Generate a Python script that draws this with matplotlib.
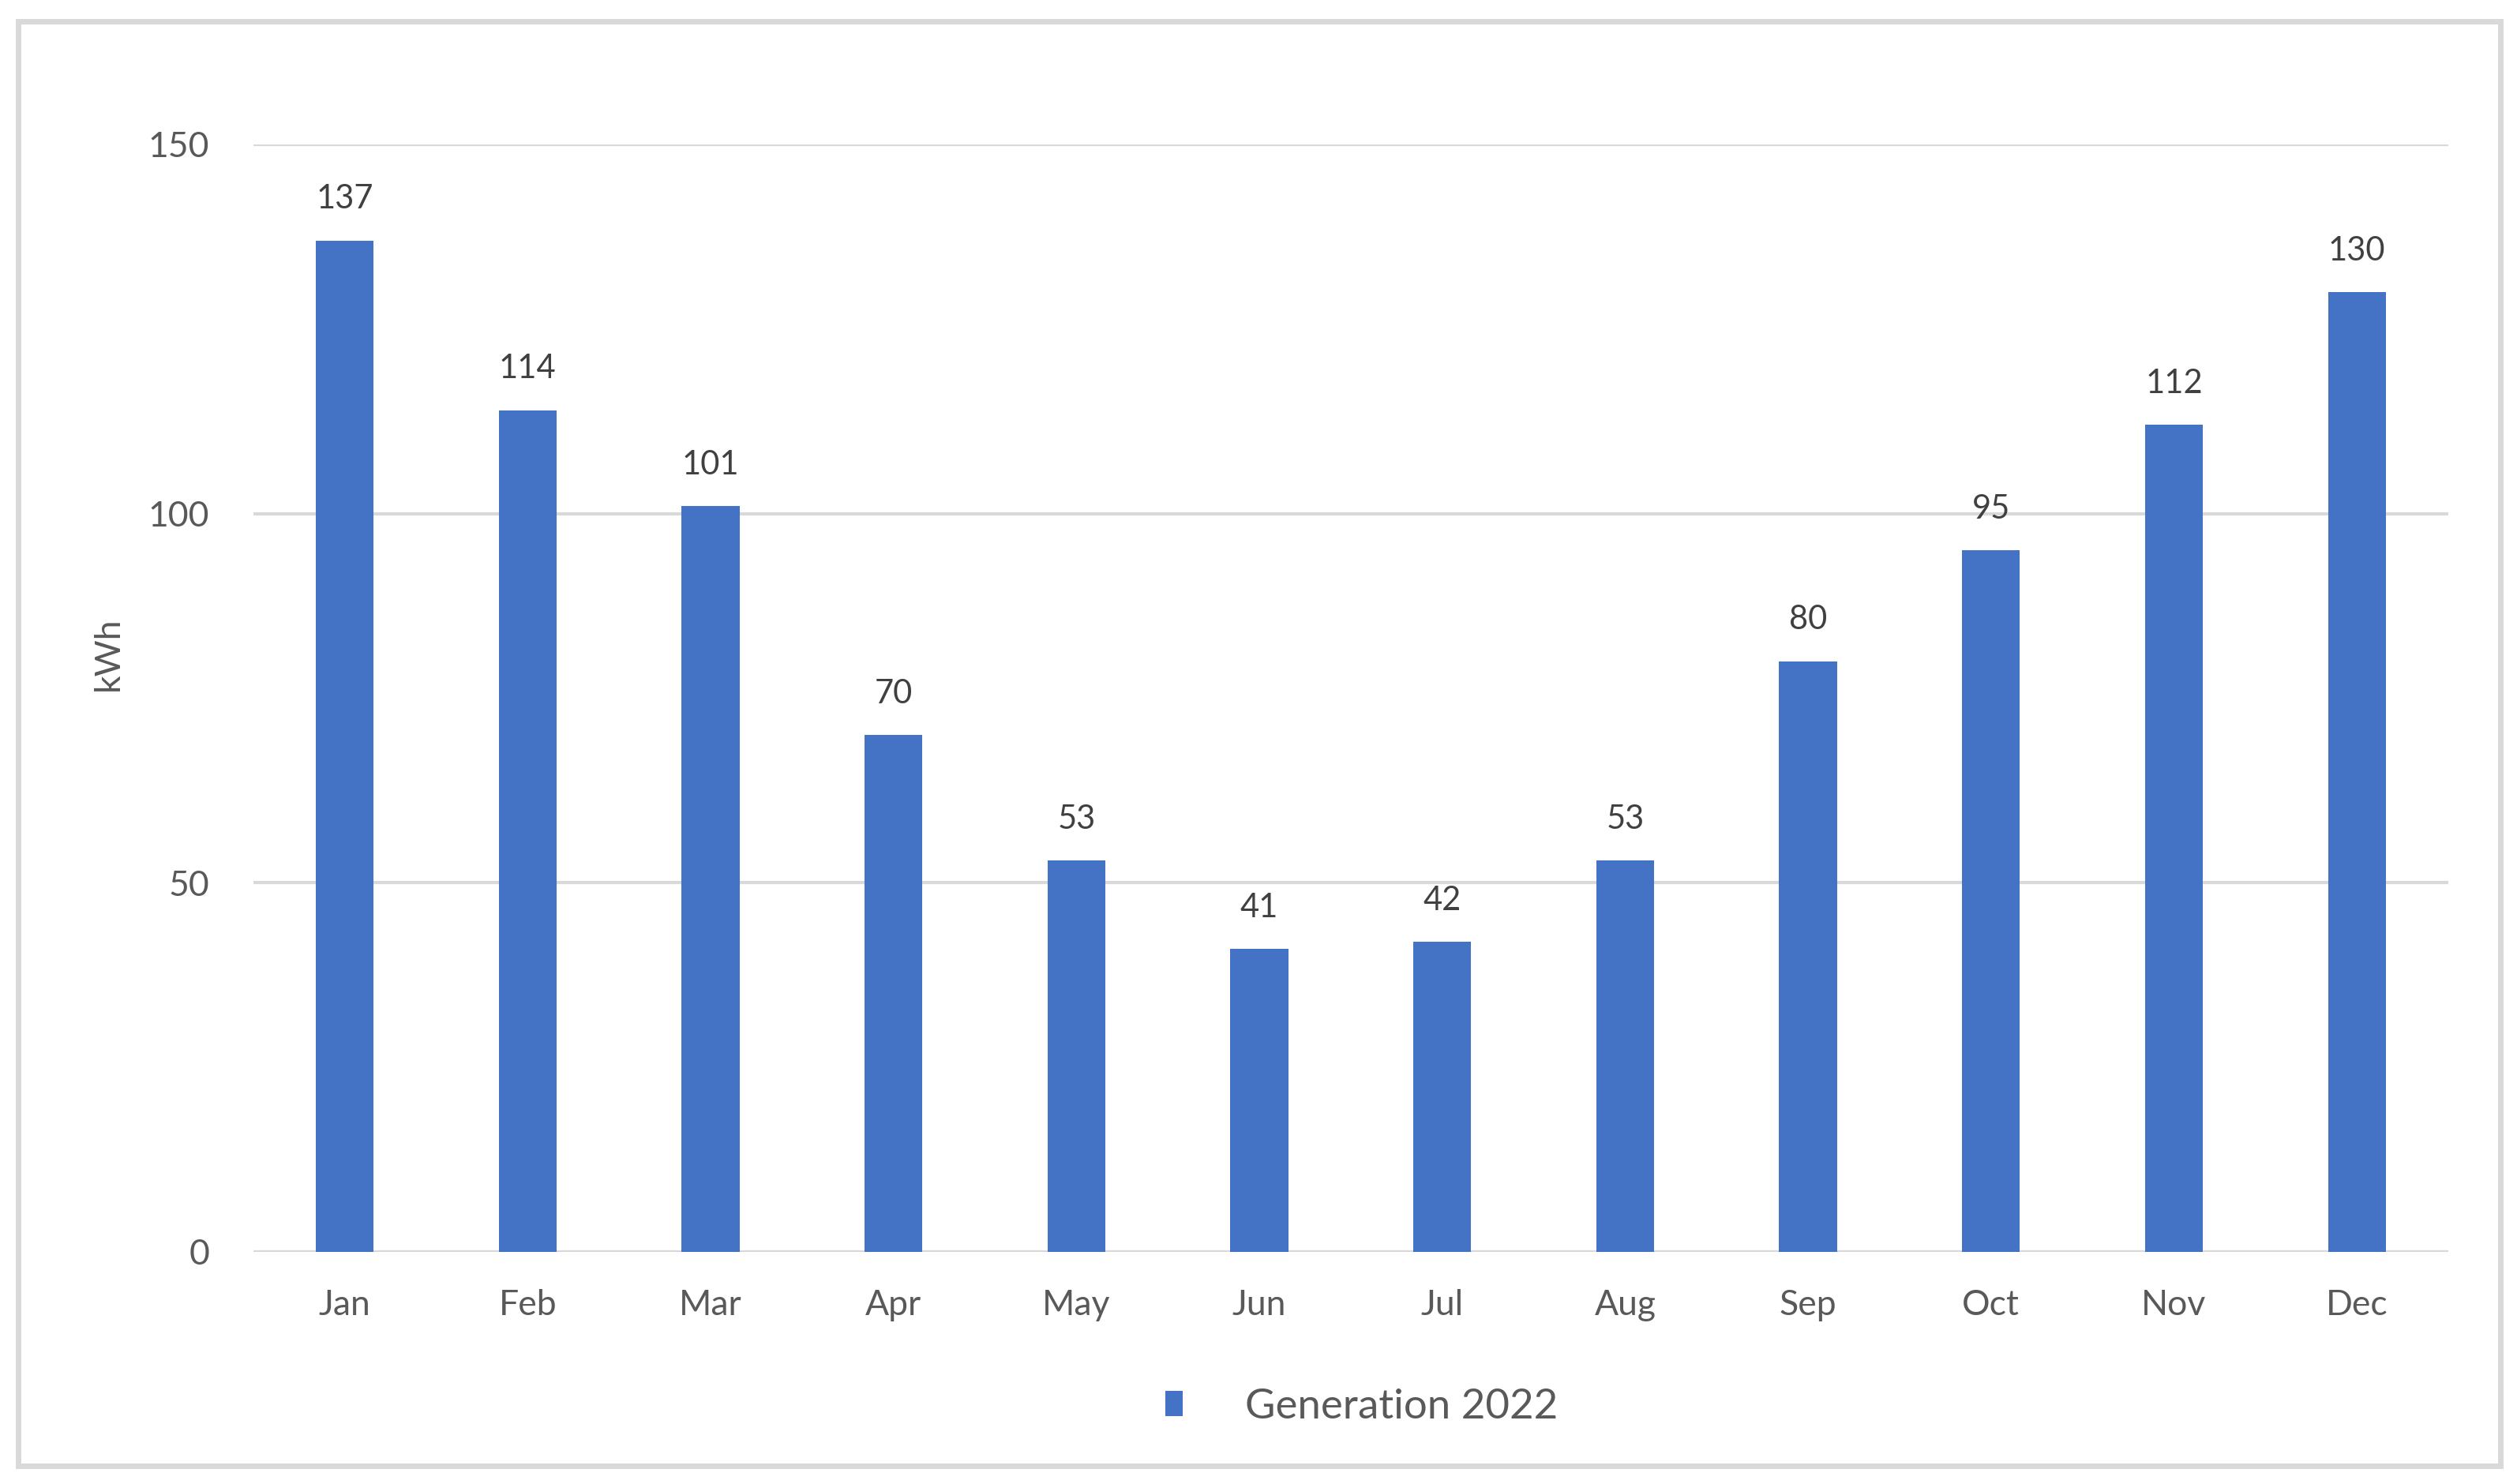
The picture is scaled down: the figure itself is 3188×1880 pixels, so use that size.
import numpy as np
import matplotlib.pyplot as plt
from matplotlib.patches import Rectangle

# Datos de generacion mensual
meses = ['Jan', 'Feb', 'Mar', 'Apr', 'May', 'Jun', 'Jul', 'Aug', 'Sep', 'Oct', 'Nov', 'Dec']
generacion = [137, 114, 101, 70, 53, 41, 42, 53, 80, 95, 112, 130]
y_ticks = [0, 50, 100, 150]

azul = '#4472C4'
gris_txt = '#595959'
gris_lin = '#D9D9D9'

plt.rcParams['font.family'] = ['Lato', 'DejaVu Sans']

fig = plt.figure(figsize=(15.94, 9.40), dpi=200)
ax = fig.add_axes([0.1006, 0.1564, 0.8721, 0.7463])

x = np.arange(len(meses))
barras = ax.bar(x, generacion, width=0.316, color=azul, zorder=3, label='Generation 2022')

# Etiquetas de valor encima de cada barra
for xi, v in zip(x, generacion):
    ax.annotate(str(v), (xi, v), xytext=(0, 12), textcoords='offset points',
                ha='center', va='bottom', fontsize=15, color='#404040')

ax.set_xlim(-0.5, len(meses) - 0.5)
ax.set_ylim(0, 150)
ax.set_yticks(y_ticks)
ax.set_xticks(x)
ax.set_xticklabels(meses)
ax.tick_params(axis='both', length=0, labelsize=16, labelcolor=gris_txt)
ax.tick_params(axis='y', pad=20)
ax.tick_params(axis='x', pad=17)
ax.yaxis.grid(True, color=gris_lin, linewidth=1.5, zorder=0)
for s in ax.spines.values():
    s.set_visible(False)
ax.axhline(0, color=gris_lin, linewidth=1.5, zorder=2)

fig.text(0.043, 0.5595, 'kWh', rotation=90, ha='center', va='center',
         fontsize=16, color=gris_txt)

# Leyenda abajo centrada
ax.legend(loc='center', bbox_to_anchor=(0.505, -0.140), frameon=False, fontsize=19,
          handlelength=0.42, handleheight=0.55, handletextpad=1.5, labelcolor=gris_txt)

# Marco exterior del grafico
fig.patches.append(Rectangle((0.0072, 0.0122), 0.9862, 0.9734, transform=fig.transFigure,
                             fill=False, edgecolor=gris_lin, linewidth=2.5))

fig.savefig('out.png', dpi=200, facecolor='white')
